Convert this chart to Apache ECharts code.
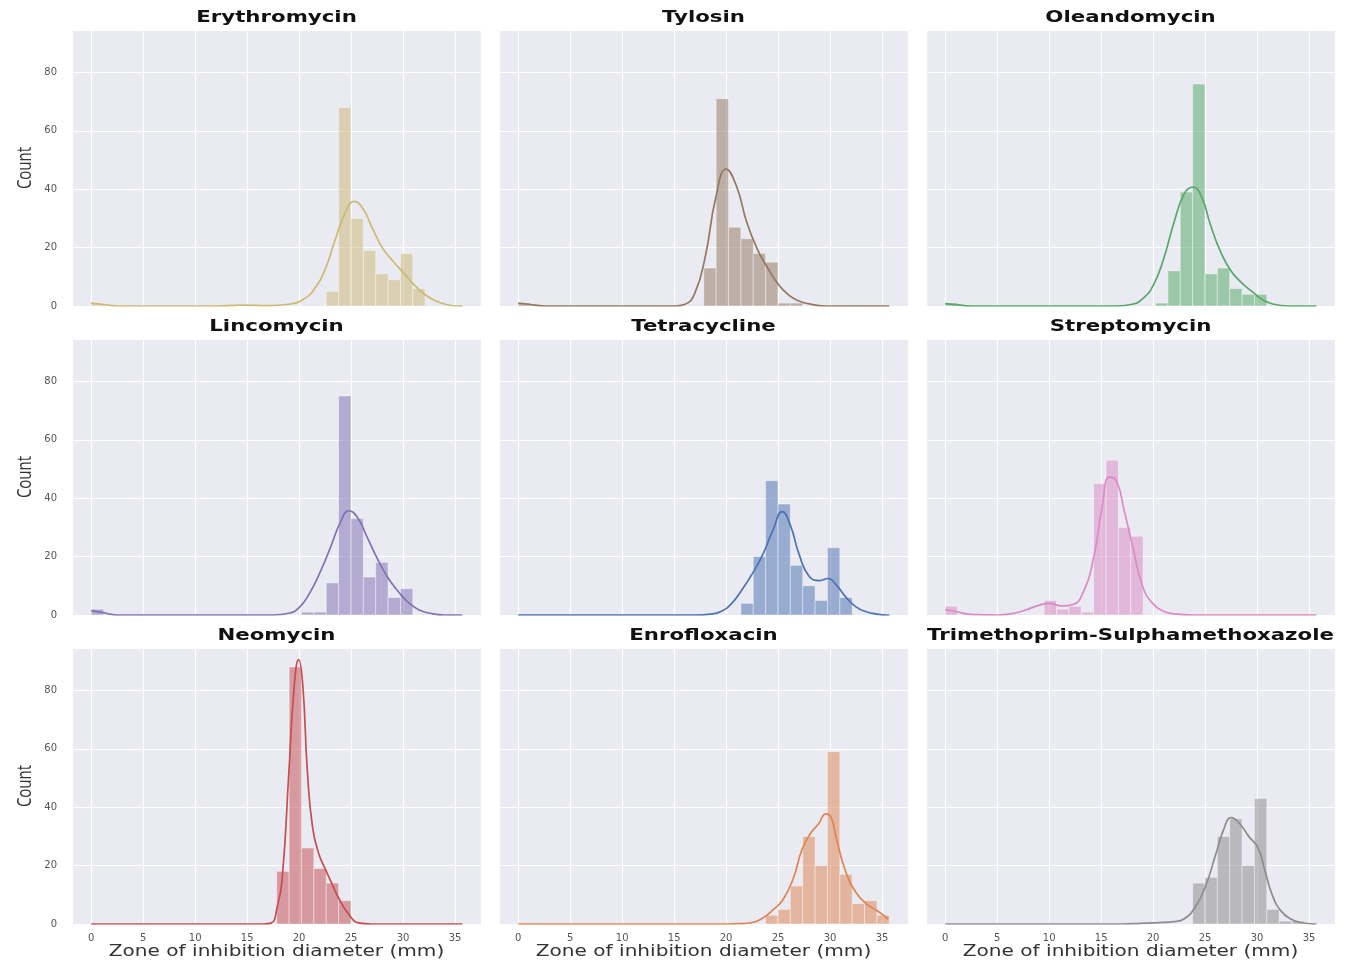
<!DOCTYPE html>
<html><head><meta charset="utf-8">
<script src="https://cdn.jsdelivr.net/npm/echarts@6/dist/echarts.min.js"></script>
<style>html,body{margin:0;padding:0;background:#fff}#c{width:1348px;height:965px}</style>
</head><body><div id="c"></div>
<script>
// ---------- DATA ----------
const binWidth = 1.19; // histogram bin width (mm); bins start at 0
const drugs = ["Erythromycin","Tylosin","Oleandomycin","Lincomycin","Tetracycline","Streptomycin","Neomycin","Enrofloxacin","Trimethoprim-Sulphamethoxazole"];
const palette = ["#CCB974","#937860","#55A868","#8172B3","#4C72B0","#DA8BC3","#C44E52","#DD8452","#8C8C8C"];
const xTicks = [0,5,10,15,20,25,30,35];
const yTicks = [0,20,40,60,80];

const erythromycinCounts = [1,0,0,0,0,0,0,0,0,0, 0,0,0,0,0,0,0,0,0,5, 68,30,19,11,9,18,6,0,0,0];
const tylosinCounts      = [1,0,0,0,0,0,0,0,0,0, 0,0,0,0,0,13,71,27,23,18, 15,1,1,0,0,0,0,0,0,0];
const oleandomycinCounts = [1,0,0,0,0,0,0,0,0,0, 0,0,0,0,0,0,0,1,12,39, 76,11,13,6,4,4,0,0,0,0];
const lincomycinCounts   = [2,0,0,0,0,0,0,0,0,0, 0,0,0,0,0,0,0,1,1,11, 75,33,13,18,6,9,0,0,0,0];
const tetracyclineCounts = [0,0,0,0,0,0,0,0,0,0, 0,0,0,0,0,0,0,0,4,20, 46,38,17,10,5,23,6,0,0,0];
const streptomycinCounts = [3,0,0,0,0,0,0,0,5,2, 3,1,45,53,30,27,0,0,0,0, 0,0,0,0,0,0,0,0,0,0];
const neomycinCounts     = [0,0,0,0,0,0,0,0,0,0, 0,0,0,0,0,18,88,26,19,14, 8,0,0,0,0,0,0,0,0,0];
const enrofloxacinCounts = [0,0,0,0,0,0,0,0,0,0, 0,0,0,0,0,0,0,0,0,0, 3,5,13,30,20,59,17,7,8,3];
const trimethoprimCounts = [0,0,0,0,0,0,0,0,0,0, 0,0,0,0,0,0,0,0,0,0, 14,16,30,36,20,43,5,1,1,0];

// KDE curves: [diameter, count]
const erythromycinKde = [[0,1.0],[1,0.6],[2.5,0],[12,0],[14.5,0.3],[17,0.1],[19,0.6],[20.5,2.5],[21.5,6],[22.5,12.5],[23.5,23],[24.5,32.5],[25.3,35.8],[26.2,33],[27,27],[28,20],[29,15.5],[30,11.5],[31,7.5],[32,4.2],[33,2],[34,0.7],[35.2,0],[35.7,0]];
const tylosinKde = [[0,1.0],[1,0.6],[2.5,0],[15,0],[16,0.5],[17,4.5],[18,17],[19,37],[20,46.9],[21,41],[22,28.5],[23,19.5],[24,13],[25,7.5],[26,3.8],[27,1.7],[28,0.7],[29.5,0],[35.7,0]];
const oleandomycinKde = [[0,0.8],[1,0.5],[2.5,0],[16.5,0],[18,0.6],[19,2.5],[20,7],[21,16],[22,28.5],[23,38.5],[23.85,40.7],[24.7,37],[25.5,28],[26.5,18.5],[27.5,12],[28.5,8],[29.5,5],[30.5,2.2],[31.5,0.7],[33,0],[35.7,0]];
const lincomycinKde = [[0,1.5],[1,0.9],[2.5,0],[17.5,0],[19,0.6],[20,2.5],[21,7.4],[22,14.5],[23,23],[24,32],[24.8,35.7],[25.6,33.5],[26.5,27],[27.5,19.5],[28.5,13],[29.5,8.2],[30.5,4.3],[31.5,1.8],[32.6,0.6],[34,0],[35.7,0]];
const tetracyclineKde = [[0,0],[17,0],[18.5,0.3],[19.5,1.2],[20.5,3.8],[21.5,8.5],[22.5,14],[23.5,20.5],[24.5,29],[25.4,35.4],[26.2,30.5],[27,21],[28,13.2],[29,11.8],[29.8,12.5],[30.6,10.3],[31.5,6.2],[32.5,2.8],[33.5,1.1],[34.5,0.3],[35.4,0],[35.7,0]];
const streptomycinKde = [[0,1.8],[1,1.2],[2,0.4],[3,0.1],[5,0],[6.5,0.5],[7.8,1.8],[9,3.3],[10,4.0],[11.2,3.1],[12.3,3.6],[13.3,8],[14.3,20],[15.1,37],[15.8,47.2],[16.5,45.7],[17.2,36],[18,24],[19,9.7],[20,3.8],[21,1.3],[22,0.4],[24,0],[35.7,0]];
const neomycinKde = [[0,0],[16.5,0],[17.3,0.3],[17.9,6],[18.4,16.8],[19.0,51],[19.5,80],[19.95,90.5],[20.35,82],[20.8,52],[21.3,33],[21.9,24],[22.5,19],[23,15],[23.8,8.9],[24.8,3.2],[25.7,0.4],[27,0],[35.7,0]];
const enrofloxacinKde = [[0,0],[20,0],[21.3,0.1],[22.6,0.6],[23.5,2],[24.5,4.8],[25.5,8.5],[26.5,16],[27.3,25.5],[28.1,30.9],[28.9,34.3],[29.6,37.7],[30.1,36.5],[30.7,28],[31.5,18],[32.5,10.8],[33.5,6.9],[34.5,4.6],[35.6,1.7]];
const trimethoprimKde = [[0,0],[17,0],[18.8,0.2],[20.5,0.5],[22,0.8],[23,1.8],[24,5.5],[25,12.5],[26,23.5],[26.8,32.5],[27.5,36.4],[28.3,34.5],[29.2,30],[30.1,26],[30.7,19],[31.5,9.6],[32.3,4.5],[33.2,1.8],[34.2,0.5],[35.5,0],[35.7,0]];

const allCounts = [erythromycinCounts,tylosinCounts,oleandomycinCounts,lincomycinCounts,tetracyclineCounts,streptomycinCounts,neomycinCounts,enrofloxacinCounts,trimethoprimCounts];
const allKde = [erythromycinKde,tylosinKde,oleandomycinKde,lincomycinKde,tetracyclineKde,streptomycinKde,neomycinKde,enrofloxacinKde,trimethoprimKde];

const xLabel = "Zone of inhibition diameter (mm)";
const yLabel = "Count";

// ---------- LAYOUT ----------
const colLeft = [72, 499, 926];
const rowTop = [30, 339, 648];
const panelW = 409, panelH = 276;
const xMin = -1.85, xMax = 37.5, yMax = 94.5;

const chart = echarts.init(document.getElementById('c'), null, {renderer:'canvas'});
const grids = [], xAxes = [], yAxes = [], series = [], texts = [];

for (let i = 0; i < 9; i++) {
  const r = Math.floor(i / 3), c = i % 3;
  grids.push({left: colLeft[c], top: rowTop[r], width: panelW, height: panelH,
    show: true, backgroundColor: '#EAEAF2', borderWidth: 0});
  xAxes.push({gridIndex: i, type: 'value', min: xMin, max: xMax, splitNumber: 8,
    axisLine: {show: false}, axisTick: {show: false},
    splitLine: {show: true, lineStyle: {color: '#ffffff', width: 1.2}},
    axisLabel: {show: r === 2, fontSize: 10, color: '#555', margin: 9, fontFamily: 'DejaVu Sans',
      formatter: v => (xTicks.indexOf(Math.round(v*1000)/1000) >= 0 ? String(v) : '')}});
  yAxes.push({gridIndex: i, type: 'value', min: 0, max: yMax, interval: 20,
    axisLine: {show: false}, axisTick: {show: false},
    splitLine: {show: true, lineStyle: {color: '#ffffff', width: 1.2}},
    axisLabel: {show: c === 0, fontSize: 10, color: '#555', margin: 15, fontFamily: 'DejaVu Sans',
      formatter: v => (yTicks.indexOf(v) >= 0 ? String(v) : '')}});
  const color = palette[i];
  const histData = [];
  allCounts[i].forEach((n, k) => { if (n > 0) histData.push([k * binWidth, (k + 1) * binWidth, n]); });
  series.push({type: 'custom', xAxisIndex: i, yAxisIndex: i, clip: true, z: 2,
    encode: {x: [0, 1], y: 2},
    data: histData,
    renderItem: (params, api) => {
      const p0 = api.coord([api.value(0), api.value(2)]);
      const p1 = api.coord([api.value(1), 0]);
      return {type: 'rect', shape: {x: p0[0], y: p0[1], width: p1[0] - p0[0], height: p1[1] - p0[1]},
        style: {fill: color, stroke: '#ffffff', lineWidth: 0.8, opacity: 0.52}};
    }});
  series.push({type: 'line', xAxisIndex: i, yAxisIndex: i, z: 3, data: allKde[i],
    smooth: 0.5, showSymbol: false, symbol: 'none', clip: true,
    lineStyle: {color: color, width: 1.7}});

  const cx = colLeft[c] + panelW / 2;
  texts.push({type: 'text', x: cx, y: rowTop[r] - 12, scaleX: 1.42,
    style: {text: drugs[i], fontSize: 15, fontWeight: 'bold', fontFamily: 'DejaVu Sans',
      fill: '#111', textAlign: 'center', align: 'center', textVerticalAlign: 'middle', verticalAlign: 'middle'}});
  if (r === 2) {
    texts.push({type: 'text', x: cx, y: rowTop[r] + panelH + 28, scaleX: 1.34,
      style: {text: xLabel, fontSize: 15, fontFamily: 'DejaVu Sans', fill: '#333',
        textAlign: 'center', align: 'center', textVerticalAlign: 'middle', verticalAlign: 'middle'}});
  }
  if (c === 0) {
    texts.push({type: 'text', x: 25, y: rowTop[r] + panelH / 2, rotation: Math.PI / 2, scaleY: 1.35,
      style: {text: yLabel, fontSize: 15, fontFamily: 'Open Sans', fill: '#333',
        textAlign: 'center', align: 'center', textVerticalAlign: 'middle', verticalAlign: 'middle'}});
  }
}

chart.setOption({
  animation: false,
  backgroundColor: '#ffffff',
  grid: grids, xAxis: xAxes, yAxis: yAxes, series: series,
  graphic: {elements: texts}
});
</script></body></html>
